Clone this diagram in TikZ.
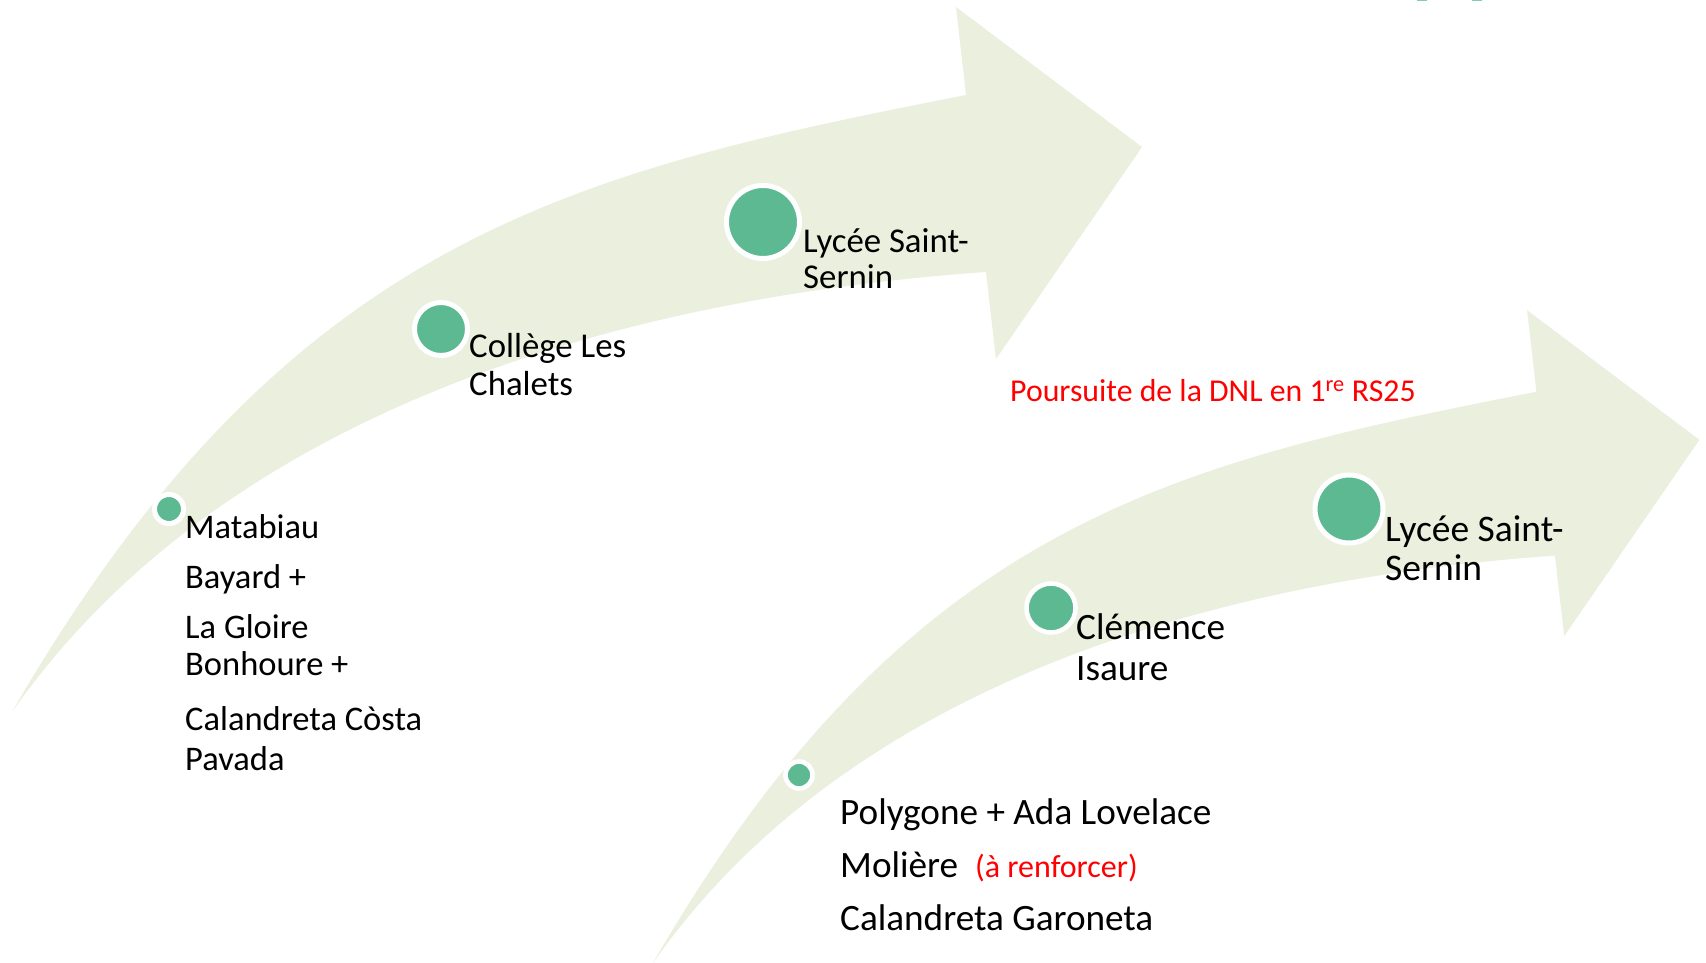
\documentclass[tikz,border=0pt]{standalone}
\usepackage{fontspec}
\setmainfont{Carlito}
\definecolor{bandcol}{RGB}{235,240,222}
\definecolor{dotcol}{RGB}{92,185,145}
\definecolor{tealmark}{RGB}{130,205,175}
\definecolor{redtxt}{RGB}{255,0,0}
\newcommand\fsList{\fontsize{34.5}{41}\selectfont}
\newcommand\fsMid{\fontsize{34.8}{41}\selectfont}
\newcommand\fsMidB{\fontsize{37.5}{44}\selectfont}
\newcommand\fsBig{\fontsize{37.2}{44}\selectfont}
\newcommand\fsRed{\fontsize{31.8}{38}\selectfont}
\newcommand\fsSmall{\fontsize{32}{38}\selectfont}
\begin{document}
\begin{tikzpicture}[x=1pt,y=-1pt,
  bandfill/.style={fill=bandcol},
  dotnode/.style={circle, fill=dotcol, draw=white, line width=5pt, inner sep=0pt},
  lbl/.style={anchor=base west, inner sep=0pt, text=black},
  redlbl/.style={anchor=base west, inner sep=0pt, text=redtxt}]
\useasboundingbox (0,0) rectangle (1706,963);
\fill[white] (0,0) rectangle (1706,963);
% small cut-off marks at the top edge
\fill[tealmark] (1417,0) rectangle (1427,1.5);
\fill[tealmark] (1472,0) rectangle (1482,1.5);
% arrow 1
\fill[bandfill] (12,712) .. controls (287,236) and (574,172) .. (966,95)
  -- (956,7) -- (1142,147) -- (996,359) -- (986,272)
  .. controls (589,300) and (213,425) .. (12,712) -- cycle;
% arrow 2 (scaled copy)
\fill[bandfill] (653,963) .. controls (907.7,522.2) and (1173.4,463.0) .. (1536.4,391.7)
  -- (1527.1,310.2) -- (1699.4,439.8) -- (1564.2,636.1) -- (1554.9,555.6)
  .. controls (1187.3,581.5) and (839.1,697.2) .. (653,963) -- cycle;
% dots arrow 1
\node[dotnode, minimum size=29pt] (dA1) at (169,509) {};
\node[dotnode, minimum size=53pt] (dA2) at (441,329) {};
\node[dotnode, minimum size=73pt] (dA3) at (763,222) {};
% dots arrow 2
\node[dotnode, minimum size=27pt, line width=4.6pt] (dB1) at (799,775) {};
\node[dotnode, minimum size=49pt, line width=4.6pt] (dB2) at (1051,608) {};
\node[dotnode, minimum size=68pt] (dB3) at (1349,509) {};
% texts arrow 1
\node[lbl, font=\fsMid] (tA3a) at (803,252) {Lycée Saint-};
\node[lbl, font=\fsMid] (tA3b) at (803,288) {Sernin};
\node[lbl, font=\fsMid] (tA2a) at (469,357) {Collège Les};
\node[lbl, font=\fsMid] (tA2b) at (469,395) {Chalets};
\node[lbl, font=\fsList] (tA1a) at (185,538) {Matabiau};
\node[lbl, font=\fsList] (tA1b) at (185,588) {Bayard +};
\node[lbl, font=\fsList] (tA1c) at (185,638) {La Gloire};
\node[lbl, font=\fsList] (tA1d) at (185,675) {Bonhoure +};
\node[lbl, font=\fsList] (tA1e) at (185,730) {Calandreta Còsta};
\node[lbl, font=\fsList] (tA1f) at (185,770) {Pavada};
% red note
\node[redlbl, font=\fsRed] (tRed) at (1010,401) {Poursuite de la DNL en 1\textsuperscript{re} RS25};
% texts arrow 2
\node[lbl, font=\fsMidB] (tB3a) at (1385,541) {Lycée Saint-};
\node[lbl, font=\fsMidB] (tB3b) at (1385,580) {Sernin};
\node[lbl, font=\fsBig] (tB2a) at (1076,639) {Clémence};
\node[lbl, font=\fsBig] (tB2b) at (1076,680) {Isaure};
\node[lbl, font=\fsBig] (tB1a) at (840,824) {Polygone + Ada Lovelace};
\node[lbl, font=\fsBig] (tB1b) at (840,877) {Molière};
\node[redlbl, font=\fsSmall] (tB1r) at (975,877) {(à renforcer)};
\node[lbl, font=\fsBig] (tB1c) at (840,930) {Calandreta Garoneta};
\end{tikzpicture}
\end{document}
